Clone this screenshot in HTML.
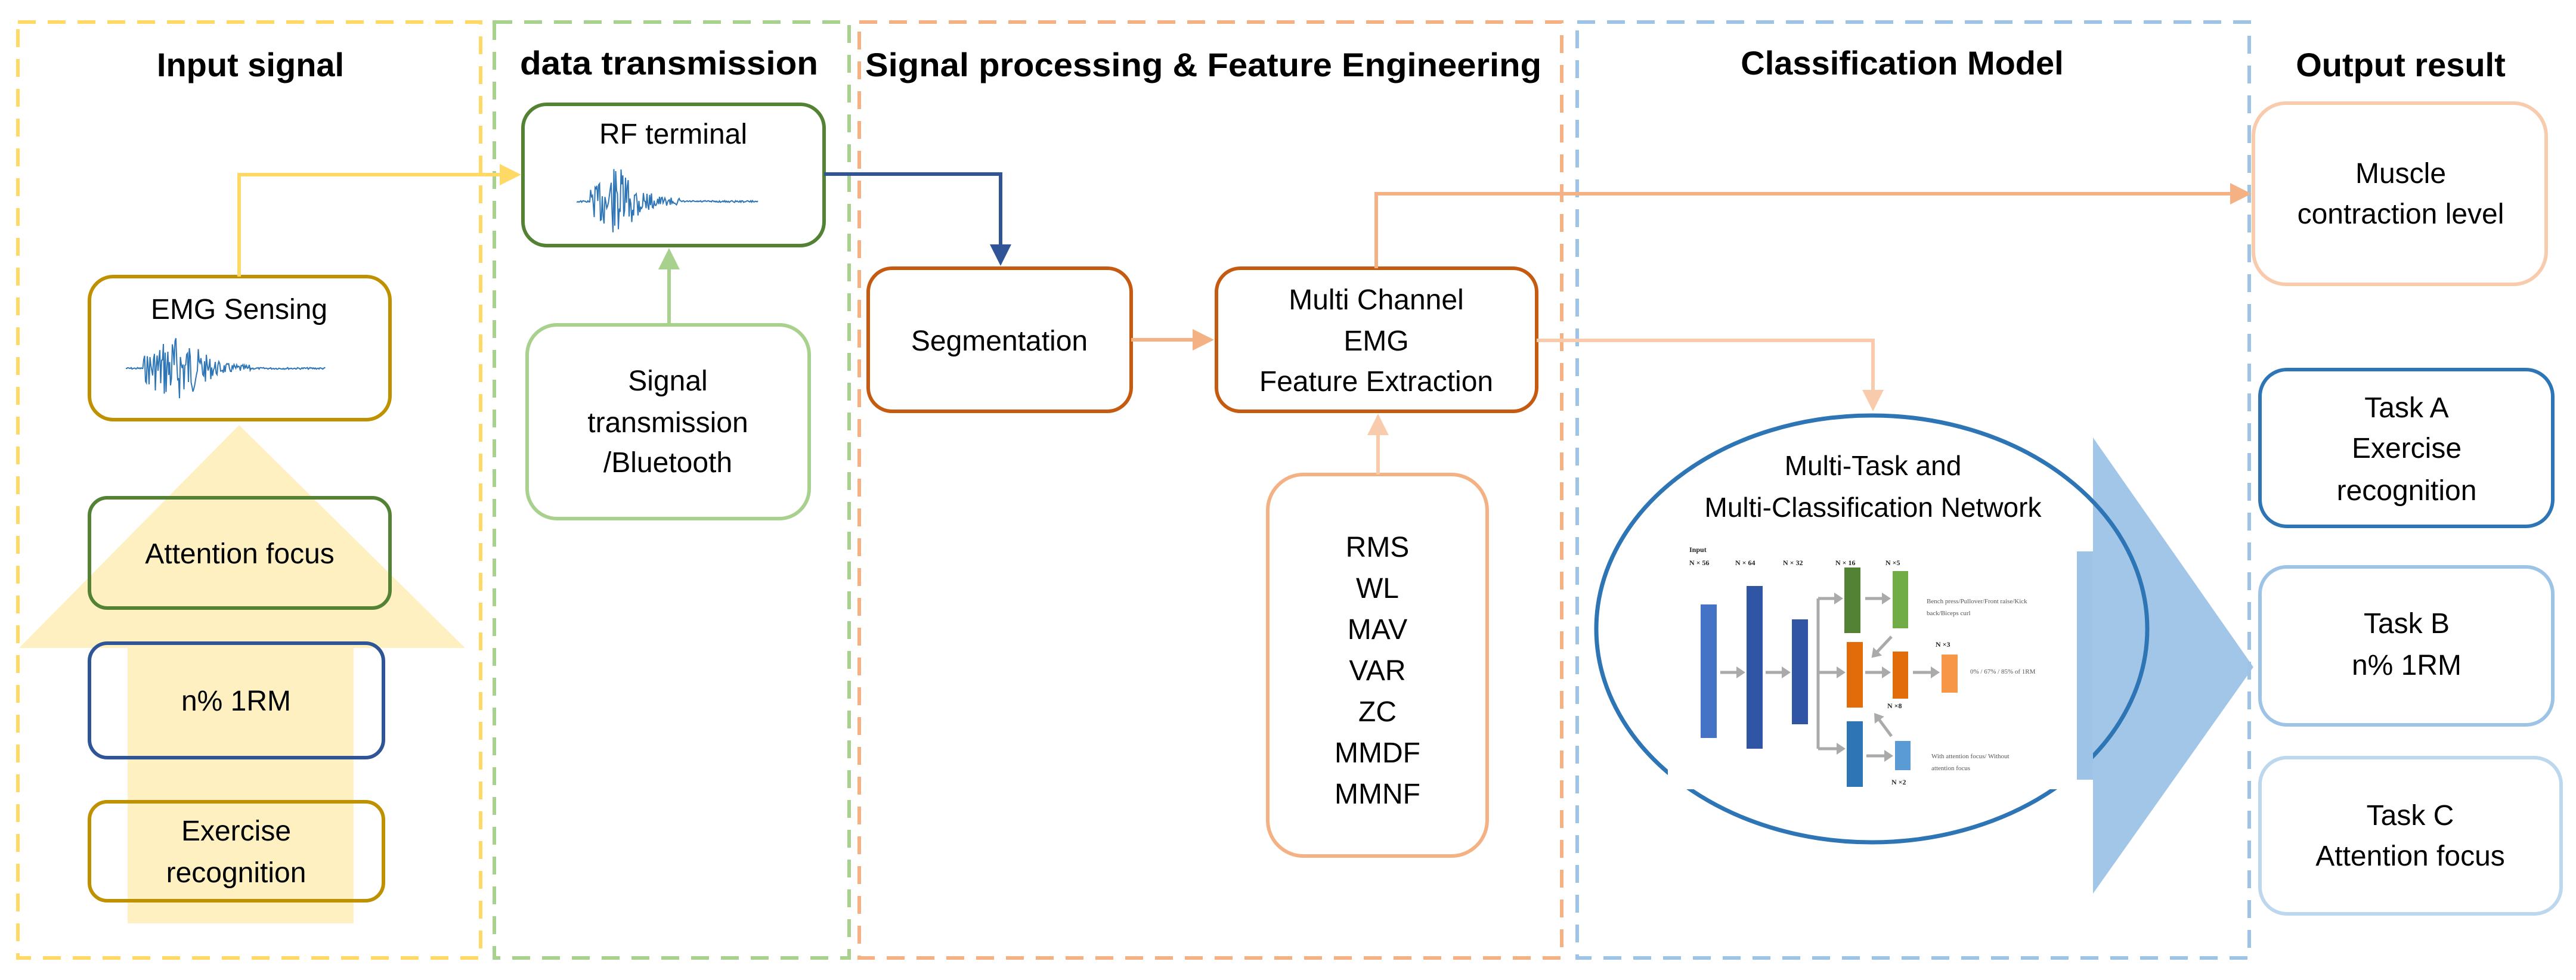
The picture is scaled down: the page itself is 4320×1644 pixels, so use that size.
<!DOCTYPE html>
<html><head><meta charset="utf-8"><style>
html,body{margin:0;padding:0;background:#fff;width:4320px;height:1644px;overflow:hidden}
text{font-family:"Liberation Sans",sans-serif;fill:#000}
.t{font-size:56px;font-weight:bold}
.b{font-size:48px}
.s{font-family:"Liberation Serif",serif;font-size:11px;fill:#555}
.sb{font-family:"Liberation Serif",serif;font-size:12px;font-weight:bold;fill:#222}
</style></head><body>
<svg width="4320" height="1644" viewBox="0 0 4320 1644" xmlns="http://www.w3.org/2000/svg">
<defs>
<marker id="ay" markerWidth="6" markerHeight="6" refX="5" refY="3" orient="auto" markerUnits="strokeWidth"><path d="M0,0 L6,3 L0,6z" fill="#ffd966"/></marker>
<marker id="ab" markerWidth="6" markerHeight="6" refX="5" refY="3" orient="auto" markerUnits="strokeWidth"><path d="M0,0 L6,3 L0,6z" fill="#2f5597"/></marker>
<marker id="ao" markerWidth="6" markerHeight="6" refX="5" refY="3" orient="auto" markerUnits="strokeWidth"><path d="M0,0 L6,3 L0,6z" fill="#f4b183"/></marker>
<marker id="alo" markerWidth="6" markerHeight="6" refX="5" refY="3" orient="auto" markerUnits="strokeWidth"><path d="M0,0 L6,3 L0,6z" fill="#f8cbad"/></marker>
<marker id="ag" markerWidth="6" markerHeight="6" refX="5" refY="3" orient="auto" markerUnits="strokeWidth"><path d="M0,0 L6,3 L0,6z" fill="#a9d18e"/></marker>
<marker id="agr" markerWidth="3" markerHeight="4" refX="2" refY="2" orient="auto" markerUnits="strokeWidth"><path d="M0,0 L3,2 L0,4z" fill="#aaa"/></marker>
</defs>

<!-- dashed group boxes -->
<g fill="none" stroke-width="6" stroke-dasharray="30,20">
<rect x="30" y="37" width="776" height="1570" stroke="#ffd966"/>
<rect x="829" y="37" width="595" height="1570" stroke="#a9d18e"/>
<rect x="1441" y="37" width="1178" height="1570" stroke="#f4b183"/>
<rect x="2645" y="37" width="1127" height="1570" stroke="#9dc3e6"/>
</g>

<!-- titles -->
<text class="t" x="420" y="128" text-anchor="middle">Input signal</text>
<text class="t" x="1122" y="125" text-anchor="middle" textLength="500" lengthAdjust="spacingAndGlyphs">data transmission</text>
<text class="t" x="1451" y="128" textLength="1134" lengthAdjust="spacingAndGlyphs">Signal processing &amp; Feature Engineering</text>
<text class="t" x="3190" y="125" text-anchor="middle">Classification Model</text>
<text class="t" x="4026" y="128" text-anchor="middle">Output result</text>

<!-- big yellow arrow -->
<path d="M401,713 L780,1087 L593,1087 L593,1549 L214,1549 L214,1087 L32,1087 Z" fill="#fff0c2"/>

<!-- input boxes -->
<g fill="none" stroke-width="6">
<rect x="150" y="464" width="504" height="240" rx="40" stroke="#bf9000"/>
<rect x="150" y="835" width="504" height="185" rx="30" stroke="#548235"/>
<rect x="150" y="1079" width="493" height="192" rx="30" stroke="#2f5597"/>
<rect x="150" y="1345" width="493" height="166" rx="30" stroke="#bf9000"/>
<rect x="877" y="175" width="505" height="237" rx="40" stroke="#548235"/>
<rect x="884" y="545" width="473" height="325" rx="50" stroke="#a9d18e"/>
<rect x="1456" y="450" width="441" height="240" rx="40" stroke="#c55a11"/>
<rect x="2040" y="450" width="537" height="240" rx="40" stroke="#c55a11"/>
<rect x="2126" y="796" width="368" height="640" rx="60" stroke="#f4b183"/>
<rect x="3779" y="173" width="491" height="304" rx="55" stroke="#f8cbad"/>
<rect x="3790" y="620" width="491" height="263" rx="45" stroke="#2e75b6"/>
<rect x="3790" y="951" width="491" height="265" rx="45" stroke="#9dc3e6"/>
<rect x="3790" y="1271" width="505" height="262" rx="45" stroke="#bdd7ee"/>
</g>

<text class="b" x="401" y="535" text-anchor="middle">EMG Sensing</text>
<text class="b" x="402" y="945" text-anchor="middle">Attention focus</text>
<text class="b" x="396" y="1192" text-anchor="middle">n% 1RM</text>
<text class="b" x="396" y="1410" text-anchor="middle">Exercise</text>
<text class="b" x="396" y="1480" text-anchor="middle">recognition</text>
<text class="b" x="1129" y="241" text-anchor="middle">RF terminal</text>
<text class="b" x="1120" y="655" text-anchor="middle">Signal</text>
<text class="b" x="1120" y="725" text-anchor="middle">transmission</text>
<text class="b" x="1120" y="792" text-anchor="middle">/Bluetooth</text>
<text class="b" x="1676" y="588" text-anchor="middle">Segmentation</text>
<text class="b" x="2308" y="519" text-anchor="middle">Multi Channel</text>
<text class="b" x="2308" y="588" text-anchor="middle">EMG</text>
<text class="b" x="2308" y="656" text-anchor="middle">Feature Extraction</text>
<g class="b" text-anchor="middle">
<text class="b" x="2310" y="934" text-anchor="middle">RMS</text>
<text class="b" x="2310" y="1003" text-anchor="middle">WL</text>
<text class="b" x="2310" y="1072" text-anchor="middle">MAV</text>
<text class="b" x="2310" y="1141" text-anchor="middle">VAR</text>
<text class="b" x="2310" y="1210" text-anchor="middle">ZC</text>
<text class="b" x="2310" y="1279" text-anchor="middle">MMDF</text>
<text class="b" x="2310" y="1348" text-anchor="middle">MMNF</text>
</g>
<text class="b" x="4026" y="307" text-anchor="middle">Muscle</text>
<text class="b" x="4026" y="375" text-anchor="middle">contraction level</text>
<text class="b" x="4036" y="700" text-anchor="middle">Task A</text>
<text class="b" x="4036" y="768" text-anchor="middle">Exercise</text>
<text class="b" x="4036" y="839" text-anchor="middle">recognition</text>
<text class="b" x="4036" y="1062" text-anchor="middle">Task B</text>
<text class="b" x="4036" y="1132" text-anchor="middle">n% 1RM</text>
<text class="b" x="4042" y="1384" text-anchor="middle">Task C</text>
<text class="b" x="4042" y="1452" text-anchor="middle">Attention focus</text>

<!-- connectors -->
<g fill="none" stroke-width="6">
<path d="M401,464 L401,293 L868,293" stroke="#ffd966" marker-end="url(#ay)"/>
<path d="M1122,545 L1122,422" stroke="#a9d18e" marker-end="url(#ag)"/>
<path d="M1382,292 L1678,292 L1678,440" stroke="#2f5597" marker-end="url(#ab)"/>
<path d="M1897,570 L2030,570" stroke="#f4b183" marker-end="url(#ao)"/>
<path d="M2311,796 L2311,700" stroke="#f8cbad" marker-end="url(#alo)"/>
<path d="M2308,450 L2308,325 L3770,325" stroke="#f4b183" marker-end="url(#ao)"/>
<path d="M2577,571 L3141,571 L3141,684" stroke="#f8cbad" marker-end="url(#alo)"/>
</g>

<!-- waveforms -->
<path id="w1" fill="none" stroke="#2e75b6" stroke-width="2"/>
<path id="w2" fill="none" stroke="#2e75b6" stroke-width="2"/>

<!-- big blue arrow -->
<path d="M3483,925 L3510,925 L3510,734 L3779,1119 L3510,1499 L3510,1308 L3483,1308 Z" fill="#9dc3e6" opacity="0.95"/>
<!-- ellipse -->
<ellipse cx="3139" cy="1055" rx="462" ry="358" fill="none" stroke="#2e75b6" stroke-width="7"/>
<rect x="2797" y="912" width="686" height="412" fill="#fff"/>
<path d="M3483,925 L3510,925 L3510,1308 L3483,1308 Z" fill="#9dc3e6"/>
<text x="3141" y="797" font-size="46" text-anchor="middle">Multi-Task and</text>
<text x="3141" y="867" font-size="46" text-anchor="middle">Multi-Classification Network</text>

<!-- network diagram -->
<g stroke="none">
<rect x="2852" y="1014" width="27" height="224" fill="#4472c4"/>
<rect x="2929" y="983" width="27" height="273" fill="#2f55a4"/>
<rect x="3005" y="1039" width="27" height="176" fill="#2f55a4"/>
<rect x="3093" y="952" width="27" height="110" fill="#548235"/>
<rect x="3174" y="958" width="26" height="96" fill="#70ad47"/>
<rect x="3097" y="1077" width="27" height="110" fill="#e36c0a"/>
<rect x="3174" y="1093" width="26" height="79" fill="#e36c0a"/>
<rect x="3256" y="1098" width="27" height="64" fill="#f79646"/>
<rect x="3097" y="1210" width="27" height="110" fill="#2e75b6"/>
<rect x="3178" y="1243" width="26" height="49" fill="#5b9bd5"/>
</g>
<g stroke="#aaa" stroke-width="5" fill="none">
<path d="M2885,1128 L2922,1128" marker-end="url(#agr)"/>
<path d="M2961,1128 L2998,1128" marker-end="url(#agr)"/>
<path d="M3049,1004 L3049,1256"/>
<path d="M3049,1004 L3086,1004" marker-end="url(#agr)"/>
<path d="M3049,1128 L3090,1128" marker-end="url(#agr)"/>
<path d="M3049,1256 L3090,1256" marker-end="url(#agr)"/>
<path d="M3128,1004 L3166,1004" marker-end="url(#agr)"/>
<path d="M3128,1128 L3166,1128" marker-end="url(#agr)"/>
<path d="M3208,1128 L3248,1128" marker-end="url(#agr)"/>
<path d="M3130,1268 L3170,1268" marker-end="url(#agr)"/>
<path d="M3172,1068 L3142,1100" marker-end="url(#agr)"/>
<path d="M3172,1235 L3146,1200" marker-end="url(#agr)"/>
</g>
<text class="sb" x="2833" y="926">Input</text>
<text class="sb" x="2833" y="948">N × 56</text>
<text class="sb" x="2910" y="948">N × 64</text>
<text class="sb" x="2990" y="948">N × 32</text>
<text class="sb" x="3078" y="948">N × 16</text>
<text class="sb" x="3162" y="948">N ×5</text>
<text class="sb" x="3246" y="1085">N ×3</text>
<text class="sb" x="3165" y="1188">N ×8</text>
<text class="sb" x="3172" y="1316">N ×2</text>
<text class="s" x="3231" y="1012">Bench press/Pullover/Front raise/Kick</text>
<text class="s" x="3231" y="1032">back/Biceps curl</text>
<text class="s" x="3304" y="1130">0% / 67% / 85% of 1RM</text>
<text class="s" x="3239" y="1272">With attention focus/ Without</text>
<text class="s" x="3239" y="1292">attention focus</text>
</svg>
<script>
function wave(id,x0,x1,yc,amp,burstStart,burstEnd,seed){
  var s=seed;function r(){s=(s*9301+49297)%233280;return s/233280;}
  var d="M"+x0+","+yc;
  for(var x=x0;x<=x1;x+=1.5){
    var a=1.5;
    if(x>burstStart&&x<burstEnd){var t=(x-burstStart)/(burstEnd-burstStart);a=amp*Math.exp(-Math.pow((t-0.3)/0.28,2))+6;}
    d+=" L"+x.toFixed(1)+","+(yc+(r()*2-1)*a).toFixed(1);
  }
  document.getElementById(id).setAttribute("d",d);
}
wave("w1",211,546,618,50,240,420,7);
wave("w2",968,1271,338,50,990,1140,13);
</script>
</body></html>
